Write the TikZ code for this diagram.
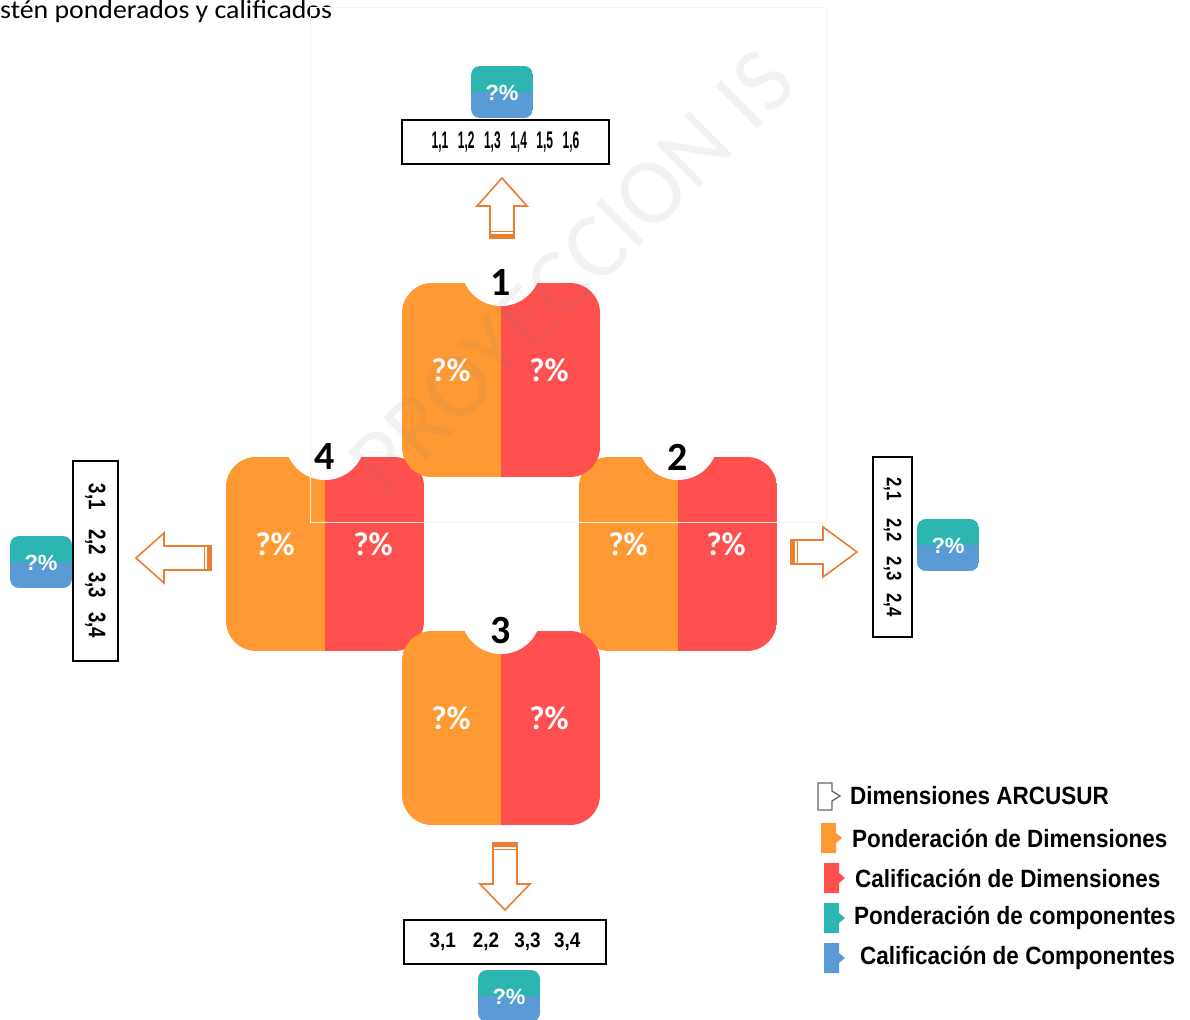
\documentclass[tikz,border=0pt]{standalone}
\usepackage{fontspec}
\usepackage{graphicx}
\setmainfont{Liberation Sans}
\newfontfamily\calibri{Carlito}
\usetikzlibrary{positioning}
\definecolor{pondorange}{HTML}{FF9933}
\definecolor{calred}{HTML}{FF5050}
\definecolor{compteal}{HTML}{2DB5B1}
\definecolor{compblue}{HTML}{5B9BD5}
\definecolor{arroworange}{HTML}{ED7D31}
\definecolor{framebeige}{HTML}{FFF0E0}
\begin{document}
\begin{tikzpicture}[x=1pt,y=-1pt,
  pct/.style={text=white,font=\calibri\bfseries\fontsize{33}{33}\selectfont},
  num/.style={font=\calibri\bfseries\fontsize{40}{40}\selectfont},
  dimbox/.style={draw=black,line width=1.6pt,fill=white,inner sep=0pt,font=\bfseries},
  badge/.style={text=white,font=\bfseries\fontsize{22}{22}\selectfont},
  blockarrow/.style={draw=arroworange,line width=1.6pt,fill=white,line join=miter},
  legtext/.style={anchor=west,inner sep=0pt,font=\bfseries\fontsize{25}{25}\selectfont}]

\useasboundingbox (0,0) rectangle (1190,1019);

\node[anchor=base west,inner sep=0pt,font=\calibri\fontsize{26}{26}\selectfont] (intro) at (0,19) {\scalebox{1.07}[1]{stén ponderados y calificados}};

% dimensiones
\foreach \n/\x/\y in {4/226/457, 2/579/457, 3/402/631, 1/402/283} {
  \begin{scope}
    \clip[rounded corners=30pt] (\x,\y) rectangle ++(198,194);
    \fill[pondorange] (\x,\y) rectangle ++(99,194);
    \fill[calred] (\x+99,\y) rectangle ++(99,194);
  \end{scope}
  \fill[white] (\x+99,\y-17) circle (40);
  \node[num] (num\n) at (\x+99,\y) {\n};
  \node[pct] (pond\n) at (\x+49,\y+87) {?\%};
  \node[pct] (cal\n) at (\x+147,\y+87) {?\%};
}

% flechas
\foreach \bx/\by/\ang/\len/\hd in {502/238/90/60/28, 791/552/0/66/34, 505/843/-90/67/26, 211/558/180/75/28} {
  \begin{scope}[shift={(\bx,\by)},rotate=\ang]
    \draw[blockarrow] (0,-12) -- (\len-\hd,-12) -- (\len-\hd,-25) -- (\len,0) -- (\len-\hd,25) -- (\len-\hd,12) -- (0,12) -- cycle;
    \fill[arroworange] (0,-12) rectangle (4,12);
    \draw[arroworange,line width=1pt] (6.5,-12) -- (6.5,12);
  \end{scope}
}

% componentes
\node[dimbox,minimum width=207,minimum height=44] (dims1) at (505.5,142)
  {\scalebox{0.5}[1]{\fontsize{24}{24}\selectfont 1,1\hspace{19pt}1,2\hspace{19pt}1,3\hspace{19pt}1,4\hspace{19pt}1,5\hspace{19pt}1,6}};
\node[dimbox,minimum width=180,minimum height=39,rotate=-90] (dims2) at (892.5,547)
  {\scalebox{0.8}[1]{\fontsize{21}{21}\selectfont 2,1\hspace{22pt}2,2\hspace{19pt}2,3\hspace{16pt}2,4}};
\node[dimbox,minimum width=202,minimum height=44] (dims3) at (505,942)
  {\scalebox{0.9}[1]{\fontsize{21}{21}\selectfont 3,1\hspace{19pt}2,2\hspace{17pt}3,3\hspace{15pt}3,4}};
\node[dimbox,minimum width=200,minimum height=45,rotate=-90] (dims4) at (95.5,561)
  {\scalebox{0.78}[1]{\fontsize{24}{24}\selectfont 3,1\hspace{25pt}2,2\hspace{22pt}3,3\hspace{18pt}3,4}};

\foreach \n/\x/\y in {1/471/66, 2/917/519, 3/478/970, 4/10/536} {
  \begin{scope}
    \clip[rounded corners=9pt] (\x,\y) rectangle ++(62,52);
    \fill[compteal] (\x,\y) rectangle ++(62,26);
    \fill[compblue] (\x,\y+26) rectangle ++(62,26);
  \end{scope}
  \node[badge] (comp\n) at (\x+31,\y+27) {?\%};
}

% leyenda
\draw[gray!80!black,line width=1.3pt,fill=white] (818,783) -- (832,783) -- (832,791) -- (840,796) -- (832,801) -- (832,810) -- (818,810) -- cycle;
\node[legtext] (leg1) at (850,796) {\scalebox{0.9}[1]{Dimensiones ARCUSUR}};
\foreach \n/\col/\ix/\iy/\tx/\txt in {2/pondorange/821/838/852/Ponderación de Dimensiones, 3/calred/824/878/855/Calificación de Dimensiones, 4/compteal/824/918/854/Ponderación de componentes, 5/compblue/824/958/860/Calificación de Componentes} {
  \fill[\col] (\ix,\iy-15) -- (\ix+15,\iy-15) -- (\ix+15,\iy-5) -- (\ix+21,\iy) -- (\ix+15,\iy+5) -- (\ix+15,\iy+15) -- (\ix,\iy+15) -- cycle;
  \node[legtext] (leg\n) at (\tx,\iy) {\scalebox{0.9}[1]{\txt}};
}

% marca de agua
\draw[framebeige,line width=1pt] (310,8) rectangle (826,522);
\node[rotate=45,text=gray,text opacity=0.1,font=\calibri\fontsize{94}{94}\selectfont] (marca) at (572,272) {PROYECCION IS};

\end{tikzpicture}
\end{document}
